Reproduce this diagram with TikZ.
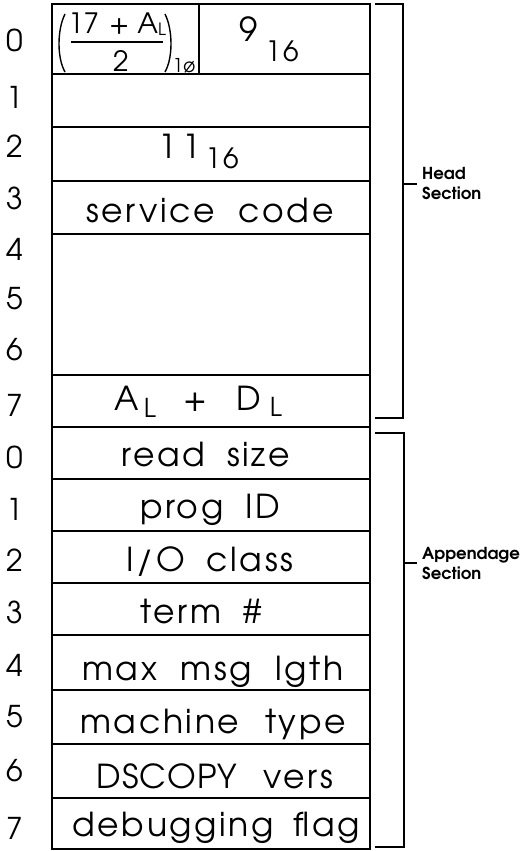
\documentclass[tikz,border=0pt]{standalone}
\usepackage{fontspec}
\setmainfont{TeX Gyre Adventor}
\newfontfamily\cellfont{TeX Gyre Adventor}[LetterSpace=8]
\begin{document}
\begin{tikzpicture}[x=1pt,y=-1pt,
  box/.style={draw,line width=1.6pt},
  cell/.style={font=\cellfont\fontsize{33}{35}\selectfont, anchor=base, inner sep=0pt},
  idx/.style={font=\fontsize{30}{32}\selectfont, inner sep=0pt},
  brk/.style={line width=1.6pt},
  sec/.style={font=\bfseries\fontsize{16.5}{18}\selectfont, anchor=base west, inner sep=0pt},
  frac/.style={font=\fontsize{28}{30}\selectfont, anchor=base, inner sep=0pt}]
\useasboundingbox (0,0) rectangle (524,851);
% outer frame and row lines
\draw[box] (52,4) rectangle (370,849);
\foreach \yy in {74,127,181,234,375,427,479,531,583,635,690,744,798}
  \draw[box] (52,\yy) -- (370,\yy);
\draw[box] (199,4) -- (199,74);
% row indices
\foreach \yy/\t [count=\i] in {40/0,97/1,146/2,198/3,249/4,299/5,350/6,405/7,
   457/0,509/1,560/2,612/3,665/4,717/5,771/6,828/7}
  \node[idx] (ix\i) at (15,\yy) {\t};
% fraction cell
\node[frac] (fnum) at (117,34) {17\hspace{10pt}+\hspace{8pt}A\raisebox{-2pt}{\fontsize{17}{17}\selectfont L}};
\node[frac] (fden) at (121,71) {2};
\draw[line width=1.4pt] (71,42) -- (163,42);
\draw[line width=1.4pt] (65,14) .. controls (57,30) and (57,58) .. (65,72);
\draw[line width=1.4pt] (165,14) .. controls (173,30) and (173,58) .. (165,72);
\node[frac,font=\fontsize{19}{19}\selectfont] (fsub) at (184,73) {1ø};
% 9_16
\node[cell] (nine) at (249,42) {9};
\node[cell,font=\cellfont\fontsize{28}{30}\selectfont] (nsub) at (282,62) {16};
% 11_16
\node[cell] (eleven) at (180,158) {1\hspace{6pt}1};
\node[cell,font=\cellfont\fontsize{28}{30}\selectfont] (esub) at (222,168) {16};
% service code
\node[cell] (svc) at (210,222) {service\hspace{12pt} code};
% A_L + D_L
\node[cell] (al) at (127,410) {A};
\node[cell,font=\cellfont\fontsize{26}{28}\selectfont] (als) at (150,417) {L};
\node[cell] (plus) at (195,410) {+};
\node[cell] (dl) at (249,410) {D};
\node[cell,font=\cellfont\fontsize{26}{28}\selectfont] (dls) at (276,416) {L};
% appendage rows
\node[cell] (t0) at (206,466) {read\hspace{10pt} size};
\node[cell] (t1) at (210,518) {prog\hspace{10pt} ID};
\node[cell] (t2) at (210,571) {I/O\hspace{10pt} class};
\node[cell] (t3) at (201,623) {term\hspace{10pt} \#};
\node[cell] (t4) at (213,680) {max\hspace{12pt} msg\hspace{12pt} lgth};
\node[cell] (t5) at (213,733) {machine\hspace{14pt} type};
\node[cell] (t6) at (215,788) {D\hspace{1pt}S\hspace{1pt}C\hspace{1pt}O\hspace{1pt}P\hspace{1pt}Y\hspace{14pt} vers};
\node[cell] (t7) at (216,836) {debugging\hspace{8pt} flag};
% brackets
\coordinate (hA) at (375,4);
\coordinate (hB) at (403,4);
\coordinate (hC) at (403,418);
\coordinate (hD) at (375,418);
\draw[brk] (hA) -- (hB) -- (hC) -- (hD);
\coordinate (hT1) at (403,184);
\coordinate (hT2) at (417,184);
\draw[brk] (hT1) -- (hT2);
\node[sec] (head1) at (422,179) {Head};
\node[sec] (head2) at (422,199) {Section};
\coordinate (aA) at (375,433);
\coordinate (aB) at (404,433);
\coordinate (aC) at (404,847);
\coordinate (aD) at (375,847);
\draw[brk] (aA) -- (aB) -- (aC) -- (aD);
\coordinate (aT1) at (404,563);
\coordinate (aT2) at (417,563);
\draw[brk] (aT1) -- (aT2);
\node[sec] (app1) at (422,559) {Appendage};
\node[sec] (app2) at (422,579) {Section};
\end{tikzpicture}
\end{document}
